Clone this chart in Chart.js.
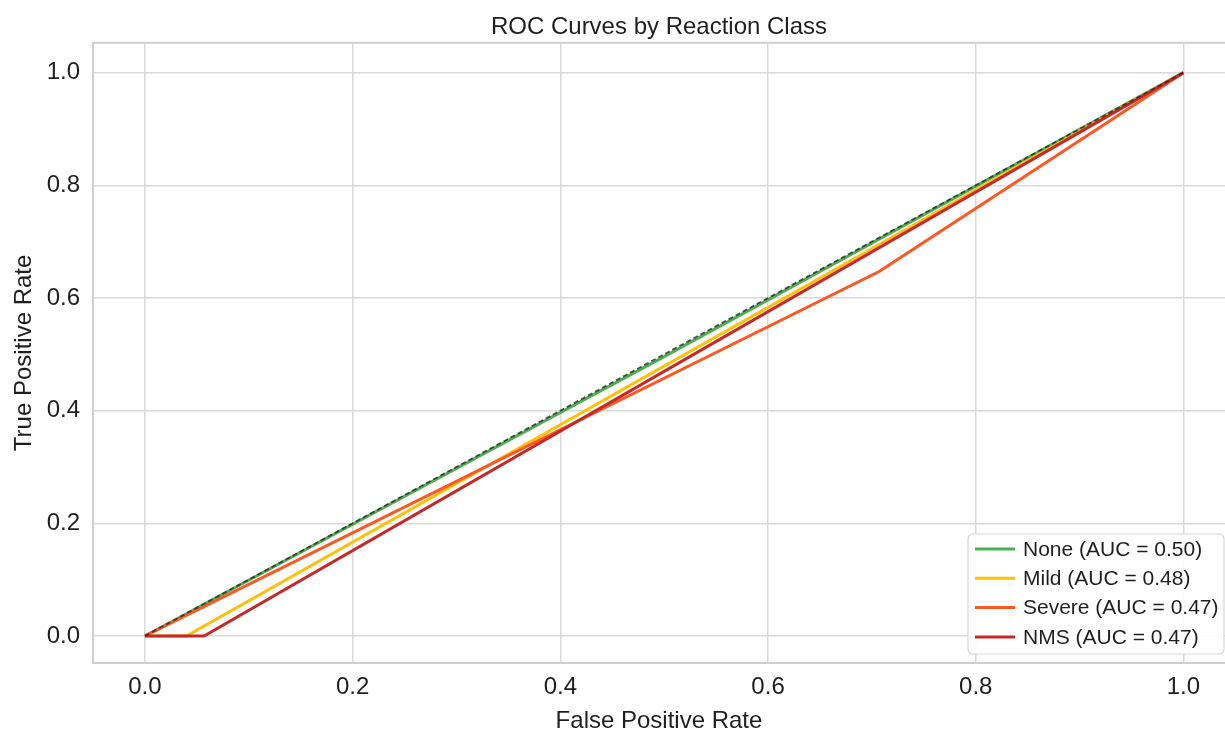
<!DOCTYPE html>
<html>
<head>
<meta charset="utf-8">
<title>ROC Curves by Reaction Class</title>
<script src="https://cdn.jsdelivr.net/npm/chart.js@4.4.1/dist/chart.umd.min.js"></script>
<style>
  html, body { margin: 0; padding: 0; background: #fff; }
  #wrap { width: 1225px; height: 736px; position: relative; }
</style>
</head>
<body>
<div id="wrap"><canvas id="roc"></canvas></div>
<script>
// ROC points per class
const classNames = ["None", "Mild", "Severe", "NMS"];
const aucValues = [0.50, 0.48, 0.47, 0.47];
const classColors = ["#4caf50", "#ffc107", "#ff5722", "#c62828"];

const fprNone = [0, 0.5, 1];
const tprNone = [0, 0.496, 1];
const fprMild = [0, 0.04, 1];
const tprMild = [0, 0, 1];
const fprSevere = [0, 0.707, 1];
const tprSevere = [0, 0.647, 1];
const fprNms = [0, 0.057, 1];
const tprNms = [0, 0, 1];
const fprChance = [0, 1];
const tprChance = [0, 1];

const tickValues = [0, 0.2, 0.4, 0.6, 0.8, 1.0];

const FONT = "'Liberation Sans', Arial, Helvetica, sans-serif";
const TEXT = "#1f1f1f";
const GRID = "#d9d9d9";

function toPoints(xs, ys) {
  return xs.map((x, i) => ({ x: x, y: ys[i] }));
}

const curves = [
  [fprNone, tprNone],
  [fprMild, tprMild],
  [fprSevere, tprSevere],
  [fprNms, tprNms]
];

const datasets = curves.map((c, i) => ({
  label: `${classNames[i]} (AUC = ${aucValues[i].toFixed(2)})`,
  data: toPoints(c[0], c[1]),
  borderColor: classColors[i],
  backgroundColor: classColors[i],
  borderWidth: 3,
  pointRadius: 0,
  tension: 0,
  order: 4 - i
}));

datasets.push({
  label: "chance",
  data: toPoints(fprChance, tprChance),
  borderColor: "rgba(40,40,40,0.8)",
  borderWidth: 1.8,
  borderDash: [5, 3],
  pointRadius: 0,
  tension: 0,
  order: 0,
  isChance: true
});

// frame around the plot (top spine + others)
const framePlugin = {
  id: "frame",
  beforeDatasetsDraw(chart) {
    const { ctx, chartArea: a } = chart;
    ctx.save();
    ctx.strokeStyle = "#cfcfcf";
    ctx.lineWidth = 2;
    ctx.strokeRect(a.left, a.top, a.right - a.left + 2, a.bottom - a.top);
    ctx.restore();
  }
};

// legend inside the lower right corner
const insideLegend = {
  id: "insideLegend",
  afterDraw(chart) {
    const { ctx, chartArea: a } = chart;
    const items = chart.data.datasets.filter(d => !d.isChance);
    const rowH = 29.3;
    const boxW = 256, boxH = 120;
    const bx = a.right - boxW - 1, by = a.bottom - boxH - 9;
    ctx.save();
    ctx.beginPath();
    ctx.roundRect(bx, by, boxW, boxH, 5);
    ctx.fillStyle = "rgba(255,255,255,0.9)";
    ctx.fill();
    ctx.strokeStyle = "#d6d6d6";
    ctx.lineWidth = 1.2;
    ctx.stroke();
    ctx.font = `21px ${FONT}`;
    ctx.textBaseline = "middle";
    items.forEach((d, i) => {
      const y = by + 15 + rowH * i;
      ctx.strokeStyle = d.borderColor;
      ctx.lineWidth = 3;
      ctx.beginPath();
      ctx.moveTo(bx + 7, y);
      ctx.lineTo(bx + 47, y);
      ctx.stroke();
      ctx.fillStyle = TEXT;
      ctx.fillText(d.label, bx + 55, y + 1);
    });
    ctx.restore();
  }
};

new Chart(document.getElementById("roc"), {
  type: "line",
  data: { datasets: datasets },
  plugins: [framePlugin, insideLegend],
  options: {
    responsive: true,
    maintainAspectRatio: false,
    animation: false,
    layout: { padding: { left: 0, right: 0, top: 0, bottom: 0 } },
    plugins: {
      legend: { display: false },
      tooltip: { enabled: false },
      title: {
        display: true,
        fullSize: false,
        text: "ROC Curves by Reaction Class",
        color: TEXT,
        font: { family: FONT, size: 24, weight: "normal" },
        padding: { top: 13, bottom: 1 }
      }
    },
    scales: {
      x: {
        type: "linear",
        min: -0.05,
        max: 1.04,
        afterBuildTicks(scale) { scale.ticks = tickValues.map(v => ({ value: v })); },
        afterFit(scale) { scale.height = 73; },
        grid: { color: GRID, lineWidth: 1.5, drawTicks: false },
        border: { display: false },
        ticks: {
          color: TEXT,
          padding: 10,
          maxRotation: 0,
          font: { family: FONT, size: 24 },
          callback: v => Number(v).toFixed(1)
        },
        title: {
          display: true,
          text: "False Positive Rate",
          color: TEXT,
          font: { family: FONT, size: 24 },
          padding: { top: 0, bottom: 0 }
        }
      },
      y: {
        type: "linear",
        min: -0.048,
        max: 1.053,
        afterBuildTicks(scale) { scale.ticks = tickValues.map(v => ({ value: v })); },
        afterFit(scale) { scale.width = 93; },
        grid: { color: GRID, lineWidth: 1.5, drawTicks: false },
        border: { display: false },
        ticks: {
          color: TEXT,
          padding: 13,
          font: { family: FONT, size: 24 },
          callback: v => Number(v).toFixed(1)
        },
        title: {
          display: true,
          text: "True Positive Rate",
          color: TEXT,
          font: { family: FONT, size: 24 },
          padding: { top: 10, bottom: 0 }
        }
      }
    }
  }
});
</script>
</body>
</html>
